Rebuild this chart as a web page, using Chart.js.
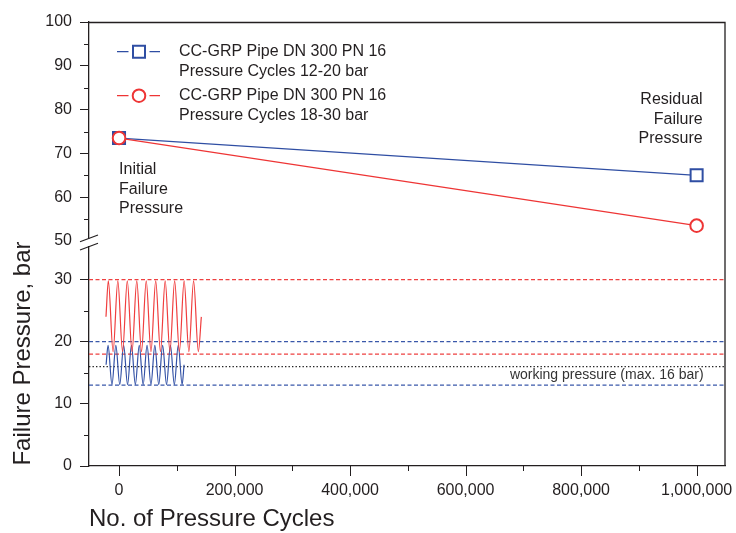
<!DOCTYPE html>
<html><head><meta charset="utf-8">
<script src="https://cdn.jsdelivr.net/npm/chart.js@4.4.1/dist/chart.umd.min.js"></script>
<style>html,body{margin:0;padding:0;background:#fff;}#wrap{width:736px;height:533px;}</style>
</head><body>
<div id="wrap"><canvas id="c" width="736" height="533"></canvas></div>
<script>
const FONT = "'Liberation Sans', Arial, Helvetica, sans-serif";
const INK = '#231f20';
const BLUE = '#2f4ea3';
const RED = '#ee3535';

// ---- data ----
const failureCycles = [0, 1000000];
const failureBlue = [73.5, 65];
const failureRed = [73.5, 53.5];

const redWaveX = [-22600, -18500, -10300, -2100, 6100, 14300, 22500, 30700, 38900, 47100, 55300,
                  63500, 71700, 79900, 88100, 96300, 104500, 112700, 120900, 129100, 137300, 142500];
const redWaveY = [24, 29.8, 18.4, 29.8, 18.4, 29.8, 18.4, 29.8, 18.4, 29.8, 18.4,
                  29.8, 18.4, 29.8, 18.4, 29.8, 18.4, 29.8, 18.4, 29.8, 18.4, 24];
const blueWaveX = [-22400, -19000, -12250, -5500, 1250, 8000, 14750, 21500, 28250, 35000, 41750,
                   48500, 55250, 62000, 68750, 75500, 82250, 89000, 95750, 102500, 109250, 112600];
const blueWaveY = [16.3, 19.4, 13.1, 19.4, 13.1, 19.4, 13.1, 19.4, 13.1, 19.4, 13.1,
                   19.4, 13.1, 19.4, 13.1, 19.4, 13.1, 19.4, 13.1, 19.4, 13.1, 16.3];

const refSpan = [-52000, 1050000];
const refRedHigh = 30, refBlueHigh = 20, refRedLow = 18, refWorking = 16, refBlueLow = 13;

const xTickValues = [0, 200000, 400000, 600000, 800000, 1000000];
const xMinorTicks = [100000, 300000, 500000, 700000, 900000];
const yTopTicks = [50, 60, 70, 80, 90, 100];
const yTopMinor = [55, 65, 75, 85, 95];
const yBottomTicks = [0, 10, 20, 30];
const yBottomMinor = [5, 15, 25];

const legendLabels = [['CC-GRP Pipe DN 300 PN 16', 'Pressure Cycles 12-20 bar'],
                      ['CC-GRP Pipe DN 300 PN 16', 'Pressure Cycles 18-30 bar']];
const initialText = ['Initial', 'Failure', 'Pressure'];
const residualText = ['Residual', 'Failure', 'Pressure'];
const workingText = 'working pressure (max. 16 bar)';

// ---- helpers ----
const pts = (xs, ys) => xs.map((x, i) => ({x: x, y: ys[i]}));
const refLine = (v, color, dash, axis) => ({
  data: pts(refSpan, [v, v]), yAxisID: axis, borderColor: color, borderWidth: 1.2,
  borderDash: dash, pointRadius: 0, order: 3, fill: false
});
const fmt = v => String(v).replace(/\B(?=(\d{3})+(?!\d))/g, ',');

const decor = {
  id: 'decor',
  afterDraw(chart) {
    const ctx = chart.ctx, a = chart.chartArea;
    const xs = chart.scales.x, yt = chart.scales.yTop, yb = chart.scales.yBottom;
    ctx.save();
    // frame top + right
    ctx.strokeStyle = INK; ctx.lineWidth = 1.3;
    ctx.beginPath();
    ctx.moveTo(a.left, a.top + 0.5); ctx.lineTo(a.right - 0.5, a.top + 0.5); ctx.lineTo(a.right - 0.5, a.bottom);
    ctx.stroke();
    // x major ticks (10px) and minor ticks (5px)
    ctx.lineWidth = 1;
    ctx.beginPath();
    xTickValues.forEach(v => { const p = Math.round(xs.getPixelForValue(v)) + 0.5; ctx.moveTo(p, a.bottom); ctx.lineTo(p, a.bottom + 10); });
    yTopMinor.forEach(v => { const p = Math.round(yt.getPixelForValue(v)) + 0.5; ctx.moveTo(a.left - 5, p); ctx.lineTo(a.left, p); });
    yBottomMinor.forEach(v => { const p = Math.round(yb.getPixelForValue(v)) + 0.5; ctx.moveTo(a.left - 5, p); ctx.lineTo(a.left, p); });
    xMinorTicks.forEach(v => { const p = Math.round(xs.getPixelForValue(v)) + 0.5; ctx.moveTo(p, a.bottom); ctx.lineTo(p, a.bottom + 5); });
    ctx.stroke();
    // axis break
    const b = yt.getPixelForValue(50);
    ctx.fillStyle = '#fff';
    ctx.fillRect(a.left - 2, b - 2, 4, 7);
    ctx.strokeStyle = INK; ctx.lineWidth = 1.2;
    ctx.beginPath();
    ctx.moveTo(a.left - 9, b + 0.7); ctx.lineTo(a.left + 9, b - 6);
    ctx.moveTo(a.left - 9, b + 9); ctx.lineTo(a.left + 9, b + 2.3);
    ctx.stroke();
    // legend
    const lx = a.left + 28, cx = a.left + 50, tx = a.left + 90;
    const rows = [{y: a.top + 29.7, color: BLUE, shape: 'rect'}, {y: a.top + 73.7, color: RED, shape: 'circle'}];
    ctx.font = '16px ' + FONT; ctx.textBaseline = 'middle'; ctx.textAlign = 'left';
    rows.forEach((r, i) => {
      ctx.strokeStyle = r.color; ctx.lineWidth = 1.2;
      ctx.beginPath();
      ctx.moveTo(lx, r.y); ctx.lineTo(lx + 11.5, r.y);
      ctx.moveTo(lx + 32.5, r.y); ctx.lineTo(lx + 43, r.y);
      ctx.stroke();
      ctx.lineWidth = 2; ctx.fillStyle = '#fff';
      ctx.beginPath();
      if (r.shape === 'rect') ctx.rect(cx - 6, r.y - 6, 12, 12);
      else ctx.arc(cx, r.y, 6.3, 0, Math.PI * 2);
      ctx.fill(); ctx.stroke();
      ctx.fillStyle = INK;
      legendLabels[i].forEach((t, j) => ctx.fillText(t, tx, r.y + j * 19.7));
    });
    // annotations
    ctx.fillStyle = INK; ctx.font = '16px ' + FONT;
    const ix = xs.getPixelForValue(0), iy = yt.getPixelForValue(66.3);
    initialText.forEach((t, j) => ctx.fillText(t, ix, iy + j * 19.6));
    ctx.textAlign = 'right';
    const rx = xs.getPixelForValue(1000000) + 6, ry = yt.getPixelForValue(82.35);
    residualText.forEach((t, j) => ctx.fillText(t, rx, ry + j * 19.8));
    ctx.font = '14px ' + FONT; ctx.fillStyle = '#333';
    ctx.fillText(workingText, xs.getPixelForValue(1000000) + 7, yb.getPixelForValue(14.6));
    ctx.restore();
  }
};

const yCommon = {
  type: 'linear', position: 'left', stack: 'y',
  afterFit: s => { s.width = 89; },
  grid: { drawOnChartArea: false, drawTicks: true, tickLength: 9, tickWidth: 1,
          tickColor: c => (c.tick && c.tick.value === 50) ? 'rgba(0,0,0,0)' : INK },
  border: { display: true, color: INK, width: 1.3 },
  ticks: { color: INK, font: { family: FONT, size: 16 }, padding: 8, autoSkip: false }
};

new Chart(document.getElementById('c'), {
  type: 'line',
  data: {
    datasets: [
      { data: pts(failureCycles, failureRed), yAxisID: 'yTop', borderColor: RED, borderWidth: 1.2,
        pointStyle: 'circle', pointRadius: 6.3, pointBorderWidth: 2, pointBorderColor: RED,
        pointBackgroundColor: '#fff', order: 0, fill: false },
      { data: pts(failureCycles, failureBlue), yAxisID: 'yTop', borderColor: BLUE, borderWidth: 1.2,
        pointStyle: 'rect', pointRadius: 8.5, pointBorderWidth: 2, pointBorderColor: BLUE,
        pointBackgroundColor: ['#3d5aaa', '#fff'], order: 1, fill: false },
      { data: pts(redWaveX, redWaveY), yAxisID: 'yBottom', borderColor: '#f03e3e', borderWidth: 1.2,
        cubicInterpolationMode: 'monotone', pointRadius: 0, order: 2, fill: false },
      { data: pts(blueWaveX, blueWaveY), yAxisID: 'yBottom', borderColor: '#3352a6', borderWidth: 1.2,
        cubicInterpolationMode: 'monotone', pointRadius: 0, order: 2, fill: false },
      refLine(refRedHigh, '#ee4040', [4, 2.5], 'yBottom'),
      refLine(refBlueHigh, '#3a58aa', [4, 2.5], 'yBottom'),
      refLine(refRedLow, '#ee4040', [4, 2.5], 'yBottom'),
      refLine(refWorking, '#222', [1.4, 2.1], 'yBottom'),
      refLine(refBlueLow, '#3a58aa', [4, 2.5], 'yBottom')
    ]
  },
  options: {
    responsive: false, animation: false, events: [],
    layout: { padding: { top: 22, right: 8, left: 0, bottom: 0 } },
    plugins: { legend: { display: false }, tooltip: { enabled: false } },
    scales: {
      x: {
        type: 'linear', position: 'bottom', min: refSpan[0], max: refSpan[1],
        afterBuildTicks: s => { s.ticks = xTickValues.map(v => ({ value: v })); },
        afterFit: s => { s.height = 67; },
        grid: { drawOnChartArea: false, drawTicks: true, tickLength: 15, tickColor: 'rgba(0,0,0,0)', tickWidth: 1 },
        border: { display: true, color: INK, width: 1.3 },
        ticks: { color: INK, font: { family: FONT, size: 16 }, padding: 0, maxRotation: 0, autoSkip: false,
                 callback: v => fmt(v) },
        title: { display: true, text: 'No. of Pressure Cycles', align: 'start', color: INK,
                 font: { family: FONT, size: 24, lineHeight: 1.1 }, padding: { top: 0, bottom: 0 } }
      },
      yBottom: Object.assign({}, yCommon, {
        min: 0, max: 36.2, stackWeight: 225,
        afterBuildTicks: s => { s.ticks = yBottomTicks.map(v => ({ value: v })); },
        title: { display: true, text: 'Failure Pressure, bar', color: INK,
                 font: { family: FONT, size: 24 }, padding: { top: 9, bottom: 0 } }
      }),
      yTop: Object.assign({}, yCommon, {
        min: 50, max: 100, stackWeight: 219,
        afterBuildTicks: s => { s.ticks = yTopTicks.map(v => ({ value: v })); }
      })
    }
  },
  plugins: [decor]
});
</script>
</body></html>
